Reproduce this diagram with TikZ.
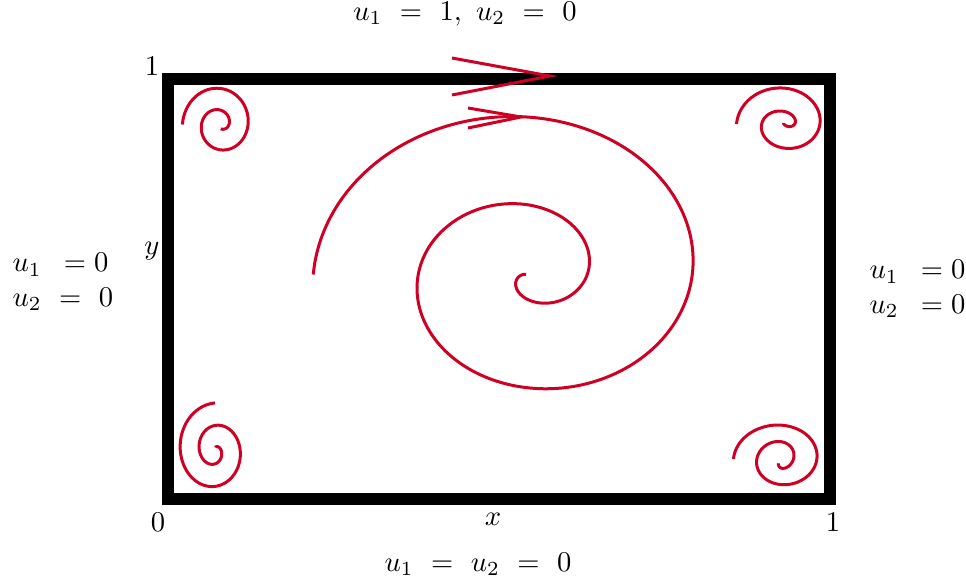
\documentclass[tikz,border=0pt]{standalone}
\usepackage{tikz}
\usetikzlibrary{positioning}
\usepackage{xcolor}
\definecolor{swirlred}{RGB}{206,0,36}

\begin{document}
\begin{tikzpicture}[
    x=0.35pt, y=-0.35pt,
    wall/.style={draw=black, line width=4.2pt},
    swirl/.style={draw=swirlred, line width=1.05pt, smooth},
    flow/.style={draw=swirlred, line width=1.05pt, line join=miter},
    lbl/.style={inner sep=0pt, align=left}
]
    \useasboundingbox (0,0) rectangle (966,583);
    \draw[wall] (168.3,79.3) rectangle (830,499);

    % swirls: centre, radius in x and y, first angle, turn sense
    \foreach \cx/\cy/\ah/\bh/\av/\bv/\ts/\o/\s in {
        529/274.5/-46.75/0.2917/-40.3/0.244/170/0/1,
        220/124.5/-10.1/0.053/-12.5/0.06/280/0/1,
        784.5/124/-15/0.07/-16.8/0.065/240/0/1,
        215/450.3/-8.2/0.053/-8.9/0.0625/190/990/-1,
        781/459/-10.95/0.065/-3.4/0.046/220/0/1}
        \draw[swirl] plot[domain=\ts:900, samples=200, variable=\t]
            ({\cx+(\ah+\bh*\t)*cos(\o+\s*\t)}, {\cy-(\av+\bv*\t)*sin(\o+\s*\t)});

    \draw[flow] (452,58) -- (550,76) -- (452,95);
    \draw[flow] (468,108) -- (521,117) -- (468,128);

    \node[lbl] (top) at (465,14) {$u_1\ =\ 1,\ u_2\ =\ 0$};
    \node[lbl] (bottom) at (478,564) {$u_1\ =\ u_2\ =\ 0$};
    \node[lbl, anchor=west] (left) at (12,282) {$u_1\ \,=0$\\$u_2\ =\ 0$};
    \node[lbl, anchor=west] (right) at (869,289) {$u_1\ \,=0$\\$u_2\ \,=0$};
    \node[lbl] (yone) at (152,66) {$1$};
    \node[lbl] (ylab) at (152,251) {$y$};
    \node[lbl] (origin) at (158,522) {$0$};
    \node[lbl] (xlab) at (493,519) {$x$};
    \node[lbl] (xone) at (833,522) {$1$};
\end{tikzpicture}
\end{document}
